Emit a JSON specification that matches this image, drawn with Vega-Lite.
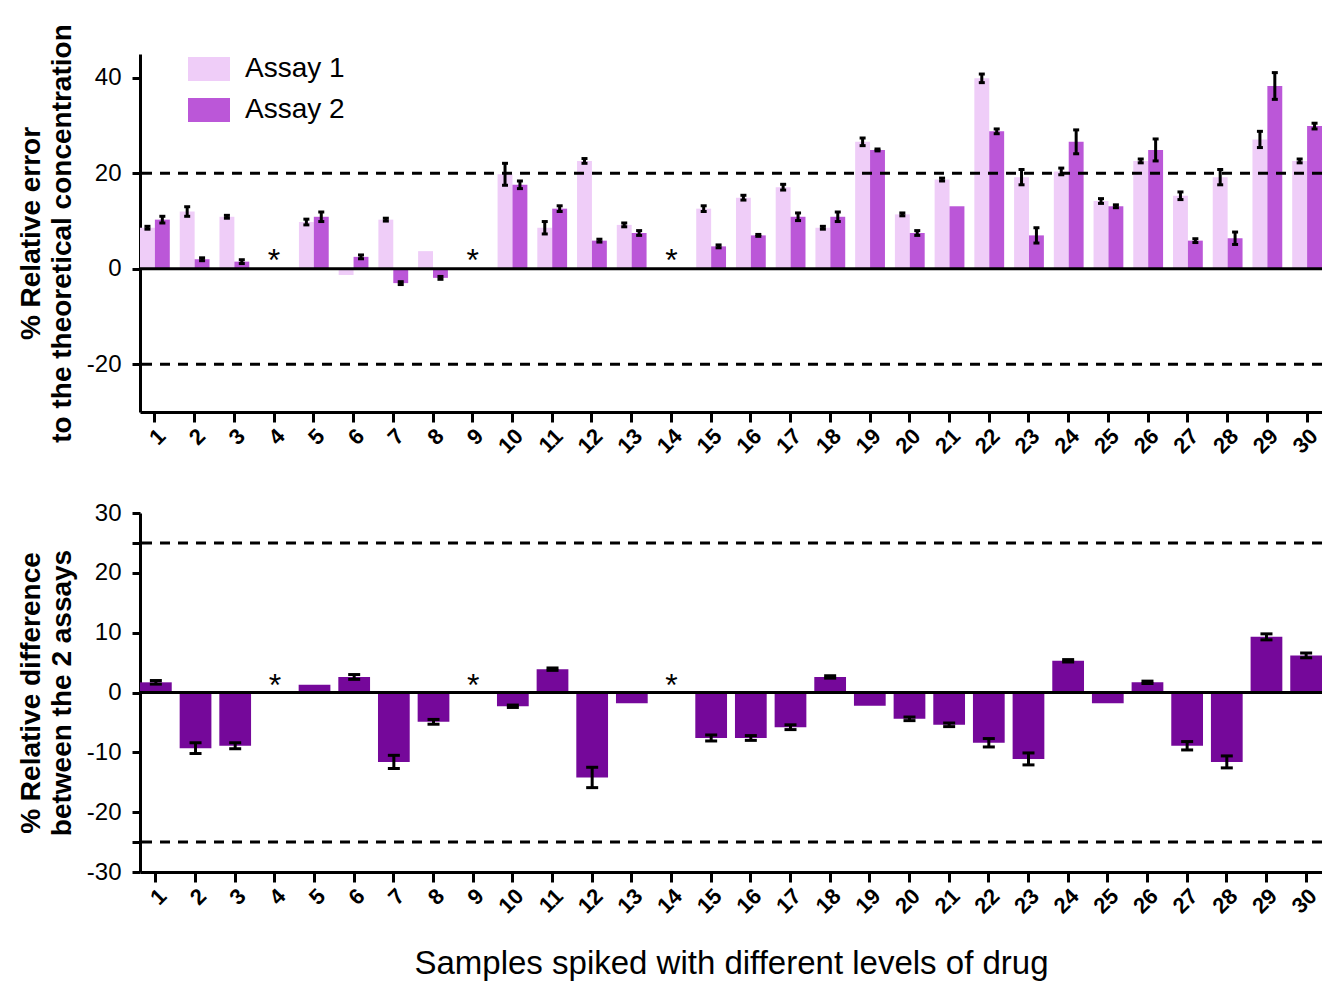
{
  "$schema": "https://vega.github.io/schema/vega-lite/v6.json",
  "background": "white",
  "padding": {"left": 17, "top": 23, "right": 0, "bottom": 0},
  "spacing": 43,
  "config": {
    "font": "Liberation Sans",
    "view": {"stroke": null},
    "axis": {"domainColor": "black", "domainWidth": 3, "tickColor": "black", "tickWidth": 3, "grid": false, "labelColor": "black", "titleColor": "black"}
  },
  "datasets": {
    "top": [
      {"s": 1, "assay": "Assay 1", "v": 8.6, "lo": 8.3, "hi": 8.9}, {"s": 1, "assay": "Assay 2", "v": 10.3, "lo": 9.6, "hi": 11.0},
      {"s": 2, "assay": "Assay 1", "v": 12.0, "lo": 11.0, "hi": 13.0}, {"s": 2, "assay": "Assay 2", "v": 2.0, "lo": 1.7, "hi": 2.3},
      {"s": 3, "assay": "Assay 1", "v": 10.9, "lo": 10.6, "hi": 11.2}, {"s": 3, "assay": "Assay 2", "v": 1.5, "lo": 1.1, "hi": 1.9},
      {"s": 5, "assay": "Assay 1", "v": 9.8, "lo": 9.2, "hi": 10.4}, {"s": 5, "assay": "Assay 2", "v": 10.9, "lo": 9.9, "hi": 11.9},
      {"s": 6, "assay": "Assay 1", "v": -1.3}, {"s": 6, "assay": "Assay 2", "v": 2.5, "lo": 2.1, "hi": 2.9},
      {"s": 7, "assay": "Assay 1", "v": 10.3, "lo": 10.0, "hi": 10.6}, {"s": 7, "assay": "Assay 2", "v": -3.0, "lo": -3.3, "hi": -2.7},
      {"s": 8, "assay": "Assay 1", "v": 3.7}, {"s": 8, "assay": "Assay 2", "v": -1.9, "lo": -2.2, "hi": -1.6},
      {"s": 10, "assay": "Assay 1", "v": 19.8, "lo": 17.5, "hi": 22.1}, {"s": 10, "assay": "Assay 2", "v": 17.6, "lo": 16.8, "hi": 18.4},
      {"s": 11, "assay": "Assay 1", "v": 8.6, "lo": 7.3, "hi": 9.9}, {"s": 11, "assay": "Assay 2", "v": 12.6, "lo": 12.0, "hi": 13.2},
      {"s": 12, "assay": "Assay 1", "v": 22.6, "lo": 22.1, "hi": 23.1}, {"s": 12, "assay": "Assay 2", "v": 5.9, "lo": 5.6, "hi": 6.2},
      {"s": 13, "assay": "Assay 1", "v": 9.2, "lo": 8.8, "hi": 9.6}, {"s": 13, "assay": "Assay 2", "v": 7.5, "lo": 7.0, "hi": 8.0},
      {"s": 15, "assay": "Assay 1", "v": 12.6, "lo": 12.0, "hi": 13.2}, {"s": 15, "assay": "Assay 2", "v": 4.7, "lo": 4.4, "hi": 5.0},
      {"s": 16, "assay": "Assay 1", "v": 14.9, "lo": 14.4, "hi": 15.4}, {"s": 16, "assay": "Assay 2", "v": 7.0, "lo": 6.8, "hi": 7.2},
      {"s": 17, "assay": "Assay 1", "v": 17.1, "lo": 16.5, "hi": 17.7}, {"s": 17, "assay": "Assay 2", "v": 10.9, "lo": 10.1, "hi": 11.7},
      {"s": 18, "assay": "Assay 1", "v": 8.6, "lo": 8.3, "hi": 8.9}, {"s": 18, "assay": "Assay 2", "v": 10.9, "lo": 9.9, "hi": 11.9},
      {"s": 19, "assay": "Assay 1", "v": 26.6, "lo": 25.8, "hi": 27.4}, {"s": 19, "assay": "Assay 2", "v": 24.9, "lo": 24.7, "hi": 25.1},
      {"s": 20, "assay": "Assay 1", "v": 11.4, "lo": 11.1, "hi": 11.7}, {"s": 20, "assay": "Assay 2", "v": 7.5, "lo": 7.0, "hi": 8.0},
      {"s": 21, "assay": "Assay 1", "v": 18.7, "lo": 18.4, "hi": 19.0}, {"s": 21, "assay": "Assay 2", "v": 13.1},
      {"s": 22, "assay": "Assay 1", "v": 39.9, "lo": 39.0, "hi": 40.8}, {"s": 22, "assay": "Assay 2", "v": 28.8, "lo": 28.3, "hi": 29.3},
      {"s": 23, "assay": "Assay 1", "v": 19.2, "lo": 17.6, "hi": 20.8}, {"s": 23, "assay": "Assay 2", "v": 7.0, "lo": 5.4, "hi": 8.6},
      {"s": 24, "assay": "Assay 1", "v": 20.4, "lo": 19.7, "hi": 21.1}, {"s": 24, "assay": "Assay 2", "v": 26.6, "lo": 24.1, "hi": 29.1},
      {"s": 25, "assay": "Assay 1", "v": 14.2, "lo": 13.7, "hi": 14.7}, {"s": 25, "assay": "Assay 2", "v": 13.1, "lo": 12.8, "hi": 13.4},
      {"s": 26, "assay": "Assay 1", "v": 22.6, "lo": 22.2, "hi": 23.0}, {"s": 26, "assay": "Assay 2", "v": 24.9, "lo": 22.6, "hi": 27.2},
      {"s": 27, "assay": "Assay 1", "v": 15.3, "lo": 14.5, "hi": 16.1}, {"s": 27, "assay": "Assay 2", "v": 5.9, "lo": 5.5, "hi": 6.3},
      {"s": 28, "assay": "Assay 1", "v": 19.2, "lo": 17.6, "hi": 20.8}, {"s": 28, "assay": "Assay 2", "v": 6.4, "lo": 5.1, "hi": 7.7},
      {"s": 29, "assay": "Assay 1", "v": 27.1, "lo": 25.4, "hi": 28.8}, {"s": 29, "assay": "Assay 2", "v": 38.3, "lo": 35.5, "hi": 41.1},
      {"s": 30, "assay": "Assay 1", "v": 22.6, "lo": 22.2, "hi": 23.0}, {"s": 30, "assay": "Assay 2", "v": 29.9, "lo": 29.3, "hi": 30.5}
    ],
    "bottom": [
      {"s": 1, "v": 1.7, "lo": 1.4, "hi": 2.0}, {"s": 2, "v": -9.3, "lo": -10.2, "hi": -8.4}, {"s": 3, "v": -8.9, "lo": -9.4, "hi": -8.4},
      {"s": 5, "v": 1.3}, {"s": 6, "v": 2.6, "lo": 2.2, "hi": 3.0}, {"s": 7, "v": -11.6, "lo": -12.7, "hi": -10.5},
      {"s": 8, "v": -4.9, "lo": -5.3, "hi": -4.5}, {"s": 10, "v": -2.3, "lo": -2.5, "hi": -2.1}, {"s": 11, "v": 3.9, "lo": 3.7, "hi": 4.1},
      {"s": 12, "v": -14.2, "lo": -15.9, "hi": -12.5}, {"s": 13, "v": -1.8}, {"s": 15, "v": -7.6, "lo": -8.1, "hi": -7.1},
      {"s": 16, "v": -7.6, "lo": -8.0, "hi": -7.2}, {"s": 17, "v": -5.8, "lo": -6.2, "hi": -5.4}, {"s": 18, "v": 2.6, "lo": 2.4, "hi": 2.8},
      {"s": 19, "v": -2.2}, {"s": 20, "v": -4.4, "lo": -4.7, "hi": -4.1}, {"s": 21, "v": -5.4, "lo": -5.7, "hi": -5.1},
      {"s": 22, "v": -8.4, "lo": -9.1, "hi": -7.7}, {"s": 23, "v": -11.1, "lo": -12.1, "hi": -10.1}, {"s": 24, "v": 5.3, "lo": 5.1, "hi": 5.5},
      {"s": 25, "v": -1.8}, {"s": 26, "v": 1.7, "lo": 1.5, "hi": 1.9}, {"s": 27, "v": -8.9, "lo": -9.6, "hi": -8.2},
      {"s": 28, "v": -11.6, "lo": -12.6, "hi": -10.6}, {"s": 29, "v": 9.3, "lo": 8.8, "hi": 9.8}, {"s": 30, "v": 6.2, "lo": 5.8, "hi": 6.6}
    ],
    "starsTop": [{"s": 4, "y": 3}, {"s": 9, "y": 3}, {"s": 14, "y": 3}],
    "starsBottom": [{"s": 4, "y": 2.2}, {"s": 9, "y": 2.2}, {"s": 14, "y": 2.2}]
  },
  "vconcat": [
    {
      "width": 1182,
      "height": 358,
      "encoding": {
        "x": {"field": "s", "type": "ordinal",
          "scale": {"domain": [1,2,3,4,5,6,7,8,9,10,11,12,13,14,15,16,17,18,19,20,21,22,23,24,25,26,27,28,29,30], "paddingInner": 0.25, "paddingOuter": 0},
          "axis": {"title": null, "labelAngle": -45, "labelFontSize": 22, "labelFontWeight": "bold", "tickSize": 10, "labelPadding": 3}}
      },
      "layer": [
        {
          "data": {"name": "top"},
          "mark": {"type": "bar"},
          "encoding": {
            "xOffset": {"field": "assay", "type": "nominal", "scale": {"paddingInner": 0}},
            "y": {"field": "v", "type": "quantitative", "scale": {"domain": [-30, 45], "nice": false},
              "axis": {"values": [40, 20, 0, -20], "labelExpr": "'' + datum.value", "tickSize": 8, "labelFontSize": 24, "labelPadding": 11,
                "title": ["% Relative error", "to the theoretical concentration"], "titleFontSize": 28, "titleFontWeight": "bold", "titlePadding": 10, "titleLineHeight": 31}},
            "color": {"field": "assay", "type": "nominal",
              "scale": {"domain": ["Assay 1", "Assay 2"], "range": ["#EFCDF8", "#BB57D8"]},
              "legend": {"title": null, "orient": "none", "legendX": 48, "legendY": -6, "symbolType": "M-1,-0.57H1V0.57H-1Z", "symbolSize": 1764, "symbolStrokeWidth": 0, "symbolOpacity": 1, "labelFontSize": 28, "labelOffset": 15, "rowPadding": 6, "labelColor": "black"}}
          }
        },
        {
          "data": {"name": "top"},
          "mark": {"type": "rule", "color": "black", "strokeWidth": 3},
          "encoding": {
            "xOffset": {"field": "assay", "type": "nominal"},
            "y": {"field": "lo", "type": "quantitative"},
            "y2": {"field": "hi"}
          }
        },
        {
          "data": {"name": "top"},
          "mark": {"type": "tick", "color": "black", "size": 6, "thickness": 3, "opacity": 1},
          "encoding": {
            "xOffset": {"field": "assay", "type": "nominal"},
            "y": {"field": "lo", "type": "quantitative"}
          }
        },
        {
          "data": {"name": "top"},
          "mark": {"type": "tick", "color": "black", "size": 6, "thickness": 3, "opacity": 1},
          "encoding": {
            "xOffset": {"field": "assay", "type": "nominal"},
            "y": {"field": "hi", "type": "quantitative"}
          }
        },
        {
          "data": {"name": "starsTop"},
          "mark": {"type": "text", "text": "*", "fontSize": 32, "color": "black", "baseline": "middle", "dy": 7},
          "encoding": {"y": {"field": "y", "type": "quantitative"}}
        },
        {
          "data": {"values": [{"r": 0}]},
          "mark": {"type": "rule", "color": "black", "strokeWidth": 3},
          "encoding": {"x": null, "y": {"datum": 0}}
        },
        {
          "data": {"values": [{"r": 20}, {"r": -20}]},
          "mark": {"type": "rule", "color": "black", "strokeWidth": 3, "strokeDash": [10, 8]},
          "encoding": {"x": null, "y": {"field": "r", "type": "quantitative"}}
        }
      ]
    },
    {
      "width": 1182,
      "height": 359,
      "encoding": {
        "x": {"field": "s", "type": "ordinal",
          "scale": {"domain": [1,2,3,4,5,6,7,8,9,10,11,12,13,14,15,16,17,18,19,20,21,22,23,24,25,26,27,28,29,30], "paddingInner": 0.2, "paddingOuter": 0},
          "axis": {"title": "Samples spiked with different levels of drug", "titleFontSize": 33, "titleFontWeight": "normal", "titlePadding": 30, "labelAngle": -45, "labelFontSize": 22, "labelFontWeight": "bold", "tickSize": 10, "labelPadding": 3}}
      },
      "layer": [
        {
          "data": {"name": "bottom"},
          "mark": {"type": "bar", "color": "#75089A"},
          "encoding": {
            "y": {"field": "v", "type": "quantitative", "scale": {"domain": [-30, 30], "nice": false},
              "axis": {"values": [-30, -25, -20, -10, 0, 10, 20, 25, 30], "labelExpr": "abs(datum.value) == 25 ? '' : '' + datum.value", "tickSize": 8, "labelFontSize": 24, "labelPadding": 11,
                "title": ["% Relative difference", "between the 2 assays"], "titleFontSize": 28, "titleFontWeight": "bold", "titlePadding": 10, "titleLineHeight": 31}}
          }
        },
        {
          "data": {"name": "bottom"},
          "mark": {"type": "rule", "color": "black", "strokeWidth": 3},
          "encoding": {"y": {"field": "lo", "type": "quantitative"}, "y2": {"field": "hi"}}
        },
        {
          "data": {"name": "bottom"},
          "mark": {"type": "tick", "color": "black", "size": 12, "thickness": 3, "opacity": 1},
          "encoding": {"y": {"field": "lo", "type": "quantitative"}}
        },
        {
          "data": {"name": "bottom"},
          "mark": {"type": "tick", "color": "black", "size": 12, "thickness": 3, "opacity": 1},
          "encoding": {"y": {"field": "hi", "type": "quantitative"}}
        },
        {
          "data": {"name": "starsBottom"},
          "mark": {"type": "text", "text": "*", "fontSize": 32, "color": "black", "baseline": "middle", "dy": 7},
          "encoding": {"y": {"field": "y", "type": "quantitative"}}
        },
        {
          "data": {"values": [{"r": 0}]},
          "mark": {"type": "rule", "color": "black", "strokeWidth": 3},
          "encoding": {"x": null, "y": {"datum": 0}}
        },
        {
          "data": {"values": [{"r": 25}, {"r": -25}]},
          "mark": {"type": "rule", "color": "black", "strokeWidth": 3, "strokeDash": [10, 8]},
          "encoding": {"x": null, "y": {"field": "r", "type": "quantitative"}}
        }
      ]
    }
  ]
}
